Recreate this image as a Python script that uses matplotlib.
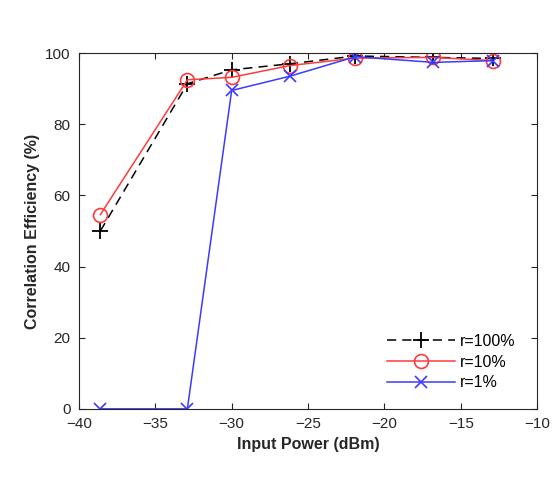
import matplotlib
matplotlib.use("Agg")
import matplotlib.pyplot as plt
import numpy as np

plt.rcParams['font.family'] = ['Liberation Sans', 'DejaVu Sans']

power = [-38.6, -32.9, -30.0, -26.2, -21.9, -16.8, -12.9]
r100 = [50.0, 91.4, 95.3, 97.0, 99.2, 98.8, 98.5]
r10 = [54.6, 92.5, 93.2, 96.5, 98.6, 98.8, 97.9]
r1 = [0.0, 0.0, 89.5, 93.5, 99.0, 97.4, 97.9]

fig = plt.figure(figsize=(5.56, 4.92), dpi=100)
ax = fig.add_axes([0.142, 0.169, 0.824, 0.723])

ax.plot(power, r100, color='black', linestyle=(0, (6, 4)), marker='+', markersize=11,
        markeredgewidth=1.3, linewidth=1.1, label='r=100%')
ax.plot(power, r10, color='#ff3b3b', marker='o', markersize=10, markerfacecolor='none',
        markeredgewidth=1.2, linewidth=1.1, label='r=10%')
ax.plot(power, r1, color='#3b3bff', marker='x', markersize=8, markeredgewidth=1.2,
        linewidth=1.1, label='r=1%')

ax.set_xlim(-40, -10)
ax.set_ylim(0, 100)
ax.set_xticks(np.arange(-40, -9, 5))
ax.set_yticks(np.arange(0, 101, 20))
ax.tick_params(direction='in', top=True, right=True, labelsize=11, colors='#262626',
               length=4, pad=6)
for s in ax.spines.values():
    s.set_color('#262626')
    s.set_linewidth(0.8)

ax.set_xlabel('Input Power (dBm)', fontsize=11.5, fontweight='bold', color='#262626')
ax.set_ylabel('Correlation Efficiency (%)', fontsize=11.5, fontweight='bold', color='#262626')

ax.legend(loc='lower right', bbox_to_anchor=(0.985, 0.012), frameon=False, fontsize=11.5,
          handlelength=4.3, handletextpad=0.3, labelspacing=0.35)

fig.savefig('out.png', dpi=100)
